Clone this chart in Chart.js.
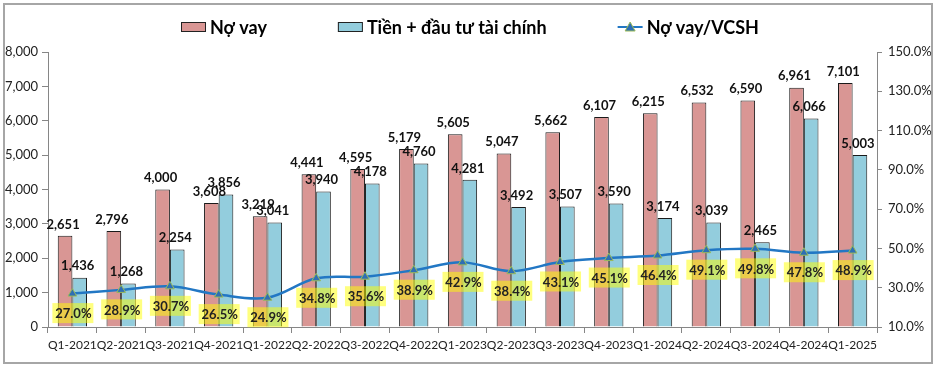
<!DOCTYPE html>
<html>
<head>
<meta charset="utf-8">
<script src="https://cdn.jsdelivr.net/npm/chart.js@4"></script>
<style>
  html, body { margin: 0; padding: 0; background: #fff; }
  #wrap { width: 936px; height: 367px; }
</style>
</head>
<body>
<div id="wrap"><canvas id="chart" width="936" height="367"></canvas></div>
<script>
const quarters = ['Q1-2021', 'Q2-2021', 'Q3-2021', 'Q4-2021', 'Q1-2022', 'Q2-2022', 'Q3-2022', 'Q4-2022',
  'Q1-2023', 'Q2-2023', 'Q3-2023', 'Q4-2023', 'Q1-2024', 'Q2-2024', 'Q3-2024', 'Q4-2024', 'Q1-2025']
const noVay = [2651, 2796, 4000, 3608, 3219, 4441, 4595, 5179, 5605, 5047, 5662, 6107, 6215, 6532, 6590, 6961, 7101]
const tienDauTu = [1436, 1268, 2254, 3856, 3041, 3940, 4178, 4760, 4281, 3492, 3507, 3590, 3174, 3039, 2465, 6066, 5003]
const noVayVcsh = [27.0, 28.9, 30.7, 26.5, 24.9, 34.8, 35.6, 38.9, 42.9, 38.4, 43.1, 45.1, 46.4, 49.1, 49.8, 47.8, 48.9]
const leftTicks = [0, 1000, 2000, 3000, 4000, 5000, 6000, 7000, 8000]
const rightTicks = [10, 30, 50, 70, 90, 110, 130, 150]

const seriesNames = ['Nợ vay', 'Tiền + đầu tư tài chính', 'Nợ vay/VCSH']
const red = '#d99694'
const blue = '#93cddd'
const lineBlue = '#2277c4'
const FONT = 'Lato, Carlito, Calibri, sans-serif'

// vẽ khung ngoài, legend riêng và nhãn giá trị
const decor = {
  id: 'decor',
  beforeDraw(chart) {
    const ctx = chart.ctx
    ctx.save()
    ctx.fillStyle = '#fff'
    ctx.fillRect(0, 0, chart.width, chart.height)
    ctx.strokeStyle = '#a6a6a6'
    ctx.lineWidth = 2
    ctx.strokeRect(4, 4, chart.width - 8, chart.height - 8)
    ctx.restore()
  },
  afterDatasetsDraw(chart) {
    const ctx = chart.ctx
    ctx.save()
    ctx.font = 'bold 13px ' + FONT
    ctx.textAlign = 'center'
    ctx.fillStyle = '#111'
    ctx.textBaseline = 'bottom'
    ;[0, 1].forEach(i => {
      chart.getDatasetMeta(i).data.forEach((bar, j) => {
        const v = chart.data.datasets[i].data[j]
        ctx.fillText(v.toLocaleString('en-US'), bar.x - 2, bar.y - 5)
      })
    })
    // nhãn tỷ lệ trên nền vàng
    ctx.textBaseline = 'middle'
    chart.getDatasetMeta(2).data.forEach((pt, j) => {
      const txt = noVayVcsh[j].toFixed(1) + '%'
      const cy = pt.y + 19.5
      ctx.fillStyle = 'rgba(255, 255, 0, 0.5)'
      ctx.fillRect(pt.x - 20, cy - 10, 41, 20)
      ctx.fillStyle = '#222'
      ctx.fillText(txt, pt.x + 1, cy + 1)
    })
    ctx.restore()
  },
  afterDraw(chart) {
    const ctx = chart.ctx
    ctx.save()
    ctx.font = 'bold 18px ' + FONT
    ctx.textBaseline = 'middle'
    const symW = 25, gapT = 4, gapItem = 71
    const widths = seriesNames.map(n => symW + gapT + ctx.measureText(n).width)
    const total = widths.reduce((a, b) => a + b, 0) + gapItem * (widths.length - 1)
    let x = (chart.width - total) / 2 + 2
    const y = 27
    seriesNames.forEach((name, i) => {
      if (i < 2) {
        ctx.fillStyle = i === 0 ? red : blue
        ctx.fillRect(x, y - 5, symW, 10)
        ctx.strokeStyle = '#222'
        ctx.lineWidth = 1
        ctx.strokeRect(x + 0.5, y - 4.5, symW - 1, 9)
      } else {
        ctx.strokeStyle = lineBlue
        ctx.lineWidth = 2
        ctx.beginPath()
        ctx.moveTo(x, y)
        ctx.lineTo(x + symW, y)
        ctx.stroke()
        ctx.fillStyle = '#2e6fb4'
        ctx.strokeStyle = '#9bbb59'
        ctx.lineWidth = 1
        ctx.beginPath()
        ctx.moveTo(x + symW / 2, y - 5)
        ctx.lineTo(x + symW / 2 + 5, y + 4)
        ctx.lineTo(x + symW / 2 - 5, y + 4)
        ctx.closePath()
        ctx.fill()
        ctx.stroke()
      }
      ctx.fillStyle = '#000'
      ctx.fillText(name, x + symW + gapT, y + 1)
      x += widths[i] + gapItem
    })
    ctx.restore()
  }
}

new Chart(document.getElementById('chart'), {
  type: 'bar',
  data: {
    labels: quarters,
    datasets: [
      {
        label: seriesNames[0],
        data: noVay,
        backgroundColor: red,
        borderColor: '#1a1a1a',
        borderWidth: 1,
        yAxisID: 'y',
        order: 2,
        categoryPercentage: 0.6,
        barPercentage: 1.0
      },
      {
        label: seriesNames[1],
        data: tienDauTu,
        backgroundColor: blue,
        borderColor: '#1a1a1a',
        borderWidth: 1,
        yAxisID: 'y',
        order: 2,
        categoryPercentage: 0.6,
        barPercentage: 1.0
      },
      {
        type: 'line',
        label: seriesNames[2],
        data: noVayVcsh,
        borderColor: lineBlue,
        borderWidth: 2.5,
        tension: 0.35,
        pointStyle: 'triangle',
        pointRadius: 5,
        pointBackgroundColor: '#2e6fb4',
        pointBorderColor: '#9bbb59',
        pointBorderWidth: 1,
        yAxisID: 'y1',
        order: 0
      }
    ]
  },
  options: {
    responsive: false,
    animation: false,
    devicePixelRatio: 1,
    layout: { padding: { top: 52, bottom: 0, left: 0, right: 0 } },
    plugins: {
      legend: { display: false },
      tooltip: { enabled: false }
    },
    scales: {
      x: {
        grid: { display: true, drawOnChartArea: false, drawTicks: true, tickLength: 6, color: '#868686', offset: true },
        border: { color: '#868686', width: 1 },
        ticks: { autoSkip: false, maxRotation: 0, minRotation: 0, color: '#222', font: { family: FONT, size: 12 }, padding: 5 },
        afterFit(scale) { scale.height = 40 }
      },
      y: {
        position: 'left',
        min: 0,
        max: 8000,
        afterBuildTicks(scale) { scale.ticks = leftTicks.map(v => ({ value: v })) },
        grid: { display: true, drawOnChartArea: false, tickLength: 6, color: '#868686' },
        border: { color: '#868686', width: 1 },
        ticks: {
          color: '#222',
          font: { family: FONT, size: 13 },
          padding: 4,
          callback: v => v.toLocaleString('en-US')
        },
        afterFit(scale) { scale.width = 48 }
      },
      y1: {
        position: 'right',
        min: 10,
        max: 150,
        afterBuildTicks(scale) { scale.ticks = rightTicks.map(v => ({ value: v })) },
        grid: { display: true, drawOnChartArea: false, tickLength: 5, color: '#868686' },
        border: { color: '#868686', width: 1 },
        ticks: {
          color: '#222',
          font: { family: FONT, size: 13 },
          padding: 6,
          callback: v => v.toFixed(1) + '%'
        },
        afterFit(scale) { scale.width = 59 }
      }
    }
  },
  plugins: [decor]
})
</script>
</body>
</html>
